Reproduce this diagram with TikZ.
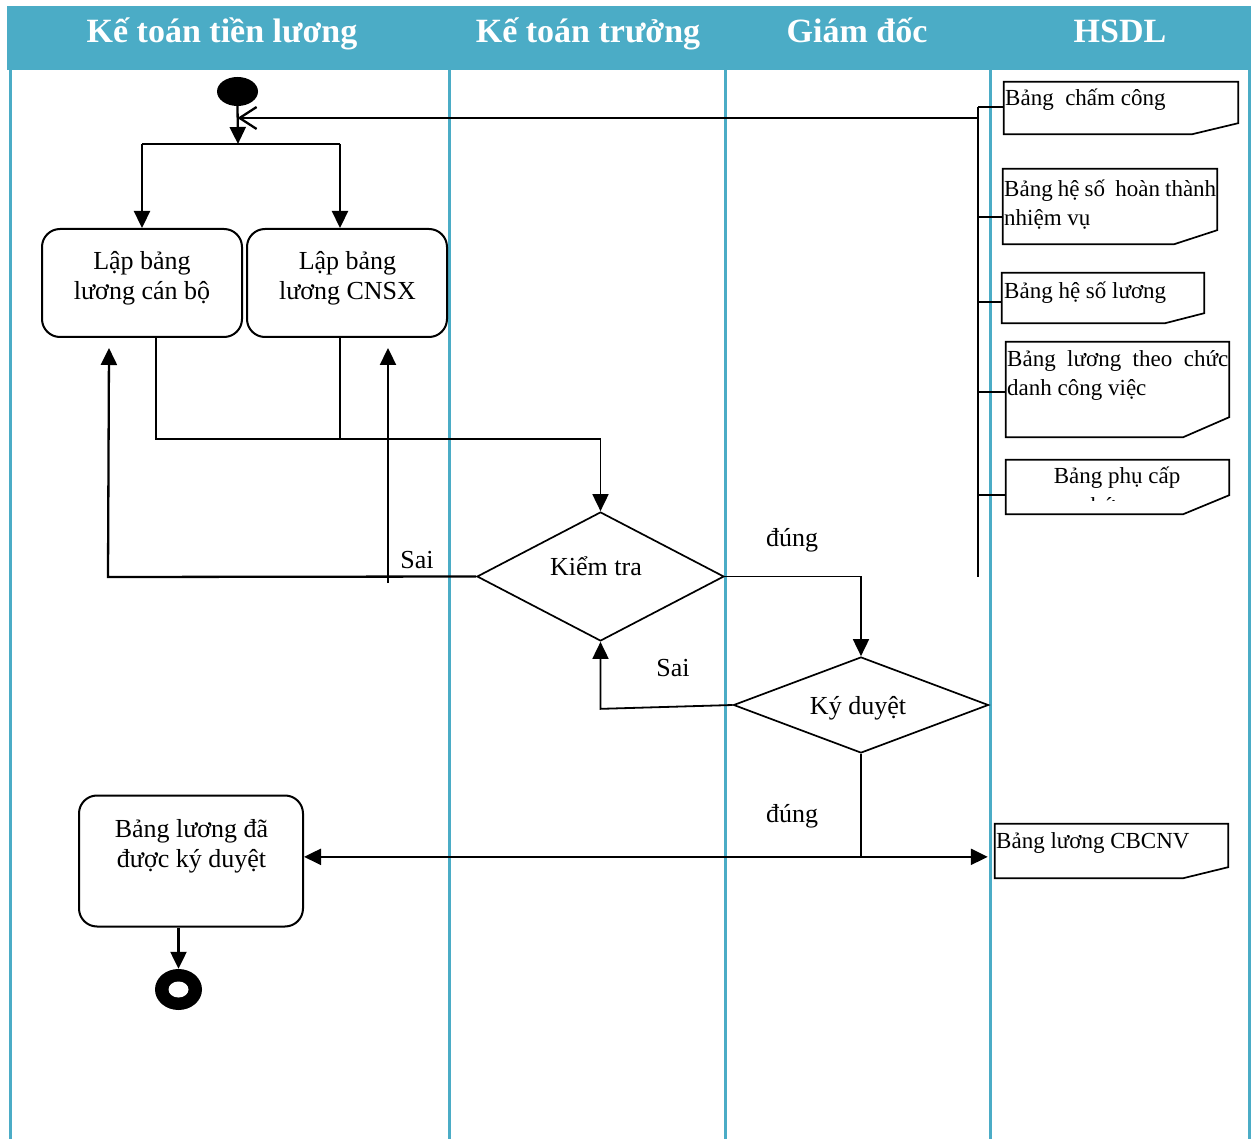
\documentclass[tikz,border=0pt]{standalone}
\usepackage{fontspec}
\setmainfont{Liberation Serif}
\usetikzlibrary{arrows.meta,shapes.geometric,calc}
\definecolor{lane}{HTML}{4BACC6}

\tikzset{
  x=1pt, y=-1pt,
  lanerule/.style={draw=lane, line width=3pt},
  hdr/.style={text=white, inner sep=0pt, anchor=base, font=\fontsize{34}{40}\selectfont\bfseries},
  act/.style={draw, line width=2pt, rounded corners=18pt, inner sep=0pt},
  acttext/.style={inner sep=0pt, anchor=base, font=\fontsize{26}{31}\selectfont},
  decision/.style={diamond, draw, line width=1.7pt, inner sep=0pt},
  docbox/.style={rectangle, inner sep=0pt},
  docline/.style={line width=1.7pt, line join=miter},
  doctext/.style={inner sep=0pt, font=\fontsize{23}{29}\selectfont},
  flow/.style={line width=2.3pt, -{Triangle[length=17pt,width=16pt]}},
  joinline/.style={line width=1.8pt},
  backflow/.style={line width=2.3pt, -{Straight Barb[length=17pt,width=22pt,line width=2.3pt]}},
  terminal/.style={ellipse, fill=black, inner sep=0pt},
}

% outline of a document symbol: box with a slanted lower right edge
\newcommand\docframe[3]{%
  \draw[docline] (#1.north west) -- (#1.north east) -- ([yshift=#3]#1.south east)
    -- ([xshift=-#2]#1.south east) -- (#1.south west) -- cycle;}

\begin{document}
\begin{tikzpicture}
\useasboundingbox (0,0) rectangle (1251,1139);

% swimlane header and separators
\fill[lane] (7,6) rectangle (1251,70);
\foreach \lx in {10,449,725,990,1249}
  \draw[lanerule] (\lx,70) -- (\lx,1139);

\node[hdr] (h1) at (222,43) {Kế toán tiền lương};
\node[hdr] (h2) at (588,43) {Kế toán trưởng};
\node[hdr] (h3) at (857,43) {Giám đốc};
\node[hdr] (h4) at (1120,43) {HSDL};

% start and end
\node[terminal, minimum width=41pt, minimum height=29pt] (start) at (237.5,91.5) {};
\node[terminal, minimum width=47pt, minimum height=41pt] (endn) at (178.5,989.5) {};
\node[ellipse, fill=white, inner sep=0pt, minimum width=20pt, minimum height=16pt] (endin) at (endn.center) {};

% activities
\node[act, minimum width=200pt, minimum height=108pt] (b1) at (142,283) {};
\node[acttext] (b1a) at (142,270) {Lập bảng};
\node[acttext] (b1b) at (142,300) {lương cán bộ};

\node[act, minimum width=200pt, minimum height=108pt] (b2) at (347,283) {};
\node[acttext] (b2a) at (347.5,270) {Lập bảng};
\node[acttext] (b2b) at (347.5,300) {lương CNSX};

\node[act, minimum width=224pt, minimum height=131pt] (b3) at (191,861) {};
\node[acttext] (b3a) at (191.5,837) {Bảng lương đã};
\node[acttext] (b3b) at (191.5,867) {được ký duyệt};

% decisions
\node[decision, minimum width=247pt, minimum height=129pt] (kt) at (600.5,576.5) {};
\node[acttext] (ktt) at (596,575) {Kiểm tra};
\node[decision, minimum width=255pt, minimum height=96pt] (kd) at (861,705) {};
\node[acttext] (kdt) at (858,714) {Ký duyệt};

% documents
\node[docbox, minimum width=234pt, minimum height=52pt] (d1) at (1121,108) {};
\docframe{d1}{46pt}{11pt}
\node[doctext, anchor=base west] (d1t) at (1005,106) {Bảng\ \ chấm công};

\node[docbox, minimum width=214pt, minimum height=75pt] (d2) at (1110,206.5) {};
\docframe{d2}{43pt}{14pt}
\node[doctext, anchor=base west] (d2t) at (1004,197) {\makebox[212pt][s]{Bảng hệ số\ \ hoàn thành}};
\node[doctext, anchor=base west] (d2u) at (1004,226) {nhiệm vụ};

\node[docbox, minimum width=202pt, minimum height=50pt] (d3) at (1103,298) {};
\docframe{d3}{39pt}{10pt}
\node[doctext, anchor=base west] (d3t) at (1004,299) {Bảng hệ số lương};

\node[docbox, minimum width=223pt, minimum height=95pt] (d4) at (1117.5,389.5) {};
\docframe{d4}{46pt}{20pt}
\node[doctext, anchor=base west] (d4t) at (1007,367) {\makebox[221pt][s]{Bảng lương theo chức}};
\node[doctext, anchor=base west] (d4u) at (1007,396) {danh công việc};

\node[docbox, minimum width=223pt, minimum height=54pt] (d5) at (1117.5,487) {};
\docframe{d5}{46pt}{19pt}
\node[doctext, anchor=base] (d5t) at (1117,483) {Bảng phụ cấp};
\begin{scope}
  \clip (1008,462) rectangle (1227,501);
  \node[doctext, anchor=base] (d5u) at (1117,513) {chức vụ};
\end{scope}

\node[docbox, minimum width=233pt, minimum height=54pt] (d6) at (1111.5,851) {};
\docframe{d6}{45pt}{11pt}
\node[doctext, anchor=base west] (d6t) at (996,848) {Bảng lương CBCNV};

% records feeding back to the start
\coordinate (busTop) at (978,107);
\coordinate (busBot) at (978,577);
\coordinate (ret) at (978,118);
\draw[joinline] (busTop) -- (busBot);
\draw[joinline] (busTop) -- (busTop -| d1.west);
\draw[joinline] (978,217) -- (978,217 -| d2.west);
\draw[joinline] (978,302) -- (978,302 -| d3.west);
\draw[joinline] (978,392) -- (978,392 -| d4.west);
\draw[joinline] (978,495) -- (978,495 -| d5.west);
\draw[backflow] (ret) -- (ret -| start.south);

% fork to the two activities
\coordinate (fork) at (238,144);
\coordinate (forkL) at (142,144);
\coordinate (forkR) at (340,144);
\draw[flow] (start.south) -- (fork);
\draw[line width=2.3pt] (forkL) -- (forkR);
\draw[flow] (forkL) -- (b1.north);
\draw[flow] (forkR) -- (forkR |- b2.north);

% merge into the check
\draw[flow, line width=1.8pt] ([xshift=14pt]b1.south) -- ++(0,101) -| (kt.north);
\draw[joinline] ([xshift=-7pt]b2.south) -- ++(0,101);

% rejected at the check
\coordinate (saiTail) at (388,583);
\draw[flow] (kt.west) -- (108,577) -- ([xshift=-33pt,yshift=-10pt]b1.south);
\draw[flow] (saiTail) -- ([xshift=41pt,yshift=-10pt]b2.south);
\node[acttext] (sai1) at (417,568) {Sai};

% accepted at the check
\draw[flow, line width=1.8pt] (kt.east) -| (kd.north);
\node[acttext] (dung1) at (792,547) {đúng};

% rejected at approval
\draw[flow, line width=1.8pt] (kd.west) -- ([yshift=-67pt]kt.south) -- (kt.south);
\node[acttext] (sai2) at (673,676) {Sai};

% approved
\coordinate (kdlow) at ([yshift=-103pt]kd.south);
\draw[joinline] (kd.south) -- (kdlow);
\draw[flow] (kdlow) -- (kdlow -| b3.east);
\draw[flow] (kdlow) -- ([xshift=-7pt]kdlow -| d6.west);
\node[acttext] (dung2) at (792,822) {đúng};

% finish
\draw[flow] (endn.north |- b3.south) -- (endn.north);
\end{tikzpicture}
\end{document}
